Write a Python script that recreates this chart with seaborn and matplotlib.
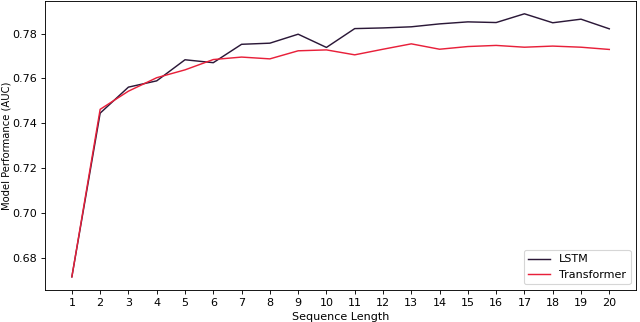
import matplotlib
matplotlib.use("Agg")
import matplotlib.pyplot as plt
import seaborn as sns
import pandas as pd

# Sequence lengths and AUC per model
seq_len = list(range(1, 21))
lstm_auc = [0.6715, 0.7445, 0.7561, 0.7589, 0.7683, 0.7670, 0.7752, 0.7757, 0.7797, 0.7738,
            0.7822, 0.7825, 0.7830, 0.7843, 0.7852, 0.7849, 0.7888, 0.7848, 0.7864, 0.7821]
transformer_auc = [0.6715, 0.7462, 0.7543, 0.7603, 0.7638, 0.7684, 0.7695, 0.7687, 0.7723, 0.7727,
                   0.7705, 0.7730, 0.7754, 0.7730, 0.7742, 0.7747, 0.7739, 0.7744, 0.7739, 0.7729]

df = pd.DataFrame({
    'Sequence Length': seq_len * 2,
    'AUC': lstm_auc + transformer_auc,
    'Model': ['LSTM'] * 20 + ['Transformer'] * 20,
})

# drawn at 8x4 inches, saved at 80 dpi -> 640x322
plt.figure(figsize=(8, 4.025), dpi=80)
ax = sns.lineplot(data=df, x='Sequence Length', y='AUC', hue='Model',
                  palette={'LSTM': '#2b1838', 'Transformer': '#e8203a'}, linewidth=1.3)

ax.set_xticks(seq_len)
ax.set_xlabel('Sequence Length')
ax.set_ylabel('Model Performance (AUC)', fontsize=9, labelpad=1)
ax.legend(loc='lower right')

plt.subplots_adjust(left=0.0703, right=0.994, top=0.998, bottom=0.0994)
plt.savefig('out.png', dpi=80)
